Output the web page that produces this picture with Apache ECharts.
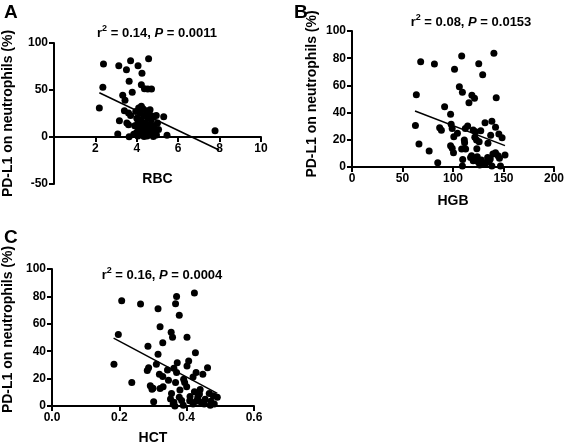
<!DOCTYPE html>
<html><head><meta charset="utf-8">
<script src="https://cdn.jsdelivr.net/npm/echarts@6/dist/echarts.min.js"></script>
<style>html,body{margin:0;padding:0;background:#fff}#c{width:567px;height:446px}</style>
</head><body><div id="c"></div>
<script>
// Panel A: RBC vs PD-L1
var rbcA = [2.39,3.13,3.50,3.70,4.06,4.57,4.25,3.63,4.22,4.37,4.53,4.71,2.36,3.78,3.32,3.43,2.19,7.78,5.30,5.46,3.08,3.63,3.16,3.52,3.60,3.40,3.60,3.70,4.09,4.22,4.64,4.48,4.94,
  4.00,4.05,4.10,4.00,4.15,4.20,4.20,4.25,4.30,4.30,4.35,4.40,4.40,4.45,4.50,4.50,4.55,4.60,4.60,4.65,4.70,4.70,4.75,4.80,4.85,4.90,4.95,5.00,3.90,3.95,4.05,4.35,4.80,5.05,3.85];
var pdA = [77.7,75.9,71.6,81.2,75.9,83.3,67.7,59.2,55.7,51.4,51.0,51.0,52.9,47.5,44.4,39.0,30.9,6.7,21.6,1.8,3.2,0.3,17.4,14.9,13.1,28.0,25.5,23.0,30.9,32.6,29.0,26.6,23.0,
  20,15,10,5,25,18,8,2,12,30,22,5,15,28,10,1,20,7,25,13,3,18,9,22,12,5,2,15,12,27,1,0.5,0.5,8,3];
var fitA_x = [2.19, 7.97];
var fitA_y = [47.1, -13.8];

// Panel B: HGB vs PD-L1
var hgbB = [68,81.6,108.6,140.5,125.5,101.5,129.4,63.7,106.3,109.3,118.7,121.3,115.8,142.8,91.7,97.6,62.8,86.8,88.5,98.2,99.2,114.5,112.2,131.7,138.5,142.1,127.5,122.3,120,104.4,100.8,111.2,111.5,121.6,123.3,125.9,137.3,145.4,148.6,66.3,76.4,97.6,99.2,100.5,108.6,112.5,123.6,134.6,118.4,117.4,124,128.1,129.8,134.3,139.5,142.1,144.7,146,151.5,109.6,84.9,109.3,124.9,126.5,132,135.6,138.5,147,136.9,120];
var pdB = [77.4,75.7,81.6,83.6,76,71.8,67.9,53.2,59,55,52.7,50.5,47.3,51,44.3,38.7,30.6,28.9,27,31.4,28.4,30.1,28.4,32.6,33.6,29.2,26.7,26,27.2,24.8,22.3,19.9,17.9,21.8,19.9,18.6,23.3,24.3,21.5,16.9,11.8,15.7,13.7,10.5,13.2,13.2,13.5,17.4,8.3,6.9,7.6,5.1,3.2,6.9,9.6,10.5,8.3,6.4,8.8,5.6,3.2,0.7,3.9,1.5,2.7,3.9,0.7,0.7,5.9,4.6];
var fitB_x = [62.4, 151.5];
var fitB_y = [41.2, 15.7];

// Panel C: HCT vs PD-L1
var hctC = [0.207,0.263,0.315,0.37,0.367,0.423,0.378,0.197,0.321,0.354,0.358,0.401,0.285,0.329,0.184,0.315,0.426,0.237,0.283,0.287,0.31,0.343,0.372,0.362,0.406,0.401,0.462,0.448,0.428,0.419,0.319,0.329,0.346,0.37,0.367,0.391,0.394,0.292,0.297,0.321,0.355,0.38,0.423,0.438,0.467,0.479,0.491,0.302,0.352,0.362,0.365,0.409,0.419,0.428,0.443,0.452,0.472,0.482,0.378,0.433,0.30,0.33,0.41,0.455,0.47,0.39,0.36,0.40,0.44,0.385];
var pdC = [76.8,74.4,71,79.9,74.6,82.4,66.2,52.2,57.8,53.9,50.2,50.2,43.7,46.1,30.4,37.7,38.9,17.2,26,28,30.4,26.3,31.6,27.5,32.8,29.2,28,23.2,24.4,21.2,23.2,21.5,18.8,24.4,17.2,19.6,17.2,14.7,12.3,12.8,9.2,11.6,10.4,8.7,9.2,7.5,6.3,3.1,5.1,2.7,0,3.8,1.4,3.4,2.7,1.4,3.4,1.4,6.3,6.3,13,14,7,5,0.5,0.5,1.5,14,12,4];
var fitC_x = [0.183, 0.491];
var fitC_y = [49.5, 9.2];

var titles = [
  {letter:'A', r2:'0.14', p:'0.0011'},
  {letter:'B', r2:'0.08', p:'0.0153'},
  {letter:'C', r2:'0.16', p:'0.0004'}
];
var xNames = ['RBC','HGB','HCT'];
var yName = 'PD-L1 on neutrophils (%)';

function zip(a,b){ return a.map(function(v,i){ return [v,b[i]]; }); }

var FONT = "'Liberation Sans', Arial, sans-serif";
var tickStyle = {show:true, length:5, lineStyle:{color:'#000', width:2}};
var labelStyle = {color:'#000', fontWeight:'bold', fontSize:12, fontFamily:FONT};
var nameStyle = {color:'#000', fontWeight:'bold', fontSize:14, fontFamily:FONT};

function xAx(idx, min, max, interval, gap, fmt, hideMin, offset){
  return {type:'value', gridIndex:idx, min:min, max:max, interval:interval, offset:offset||0,
    name:xNames[idx], nameLocation:'middle', nameGap:gap, nameTextStyle:nameStyle,
    axisLine:{show:true, onZero:false, lineStyle:{color:'#000', width:2}},
    axisTick:tickStyle, splitLine:{show:false},
    axisLabel:Object.assign({margin:6, showMinLabel:!hideMin, formatter:fmt}, labelStyle)};
}
function yAx(idx, min, max, interval, gap, pad){
  return {type:'value', gridIndex:idx, min:min, max:max, interval:interval,
    name:yName, nameLocation:'middle', nameGap:gap,
    nameTextStyle:Object.assign({padding:pad||0}, nameStyle),
    axisLine:{show:true, onZero:false, lineStyle:{color:'#000', width:2}},
    axisTick:tickStyle, splitLine:{show:false},
    axisLabel:Object.assign({margin:6}, labelStyle)};
}
function scat(idx, data){
  return {type:'scatter', xAxisIndex:idx, yAxisIndex:idx, data:data, symbolSize:7,
    itemStyle:{color:'#000', opacity:1}, silent:true};
}
function fit(idx, xs, ys){
  return {type:'line', xAxisIndex:idx, yAxisIndex:idx, data:zip(xs,ys), symbol:'none',
    lineStyle:{color:'#000', width:1.5}, silent:true};
}
function titleText(t, x, y){
  return {type:'text', x:x, y:y, style:{
    text:'{a|r}{s|2}{a| = '+t.r2+', }{i|P}{a| = '+t.p+'}',
    textAlign:'center', textVerticalAlign:'middle',
    rich:{
      a:{fontSize:13, fontWeight:'bold', fontFamily:FONT, fill:'#000'},
      s:{fontSize:9, fontWeight:'bold', fontFamily:FONT, fill:'#000', verticalAlign:'top', padding:[0,0,8,0]},
      i:{fontSize:13, fontWeight:'bold', fontStyle:'italic', fontFamily:FONT, fill:'#000'}
    }}};
}
function letter(t, x, y){
  return {type:'text', x:x, y:y, style:{text:t.letter, fontSize:19, fontWeight:'bold', fontFamily:FONT, fill:'#000'}};
}

var chart = echarts.init(document.getElementById('c'), null, {renderer:'canvas'});
chart.setOption({
  animation:false,
  backgroundColor:'#fff',
  grid:[
    {left:49, top:43, width:212, height:141},
    {left:352, top:31, width:205, height:136},
    {left:48, top:269, width:206, height:138}
  ],
  xAxis:[
    xAx(0, 0, 10, 2, 35, null, true, -47),
    xAx(1, 0, 200, 50, 27, null, false, 0),
    xAx(2, 0, 0.6, 0.2, 25, function(v){ return v.toFixed(1); }, false, 0)
  ],
  yAxis:[
    yAx(0, -50, 100, 50, 39, 0),
    yAx(1, 0, 100, 20, 33, [0,0,0,10]),
    yAx(2, 0, 100, 20, 37, [0,0,0,16])
  ],
  series:[
    scat(0, zip(rbcA, pdA)), fit(0, fitA_x, fitA_y),
    scat(1, zip(hgbB, pdB)), fit(1, fitB_x, fitB_y),
    scat(2, zip(hctC, pdC)), fit(2, fitC_x, fitC_y)
  ],
  graphic:[
    letter(titles[0], 4, 3), titleText(titles[0], 157, 33),
    letter(titles[1], 294, 3), titleText(titles[1], 471, 22),
    letter(titles[2], 4, 228), titleText(titles[2], 162, 275)
  ]
});
</script></body></html>
